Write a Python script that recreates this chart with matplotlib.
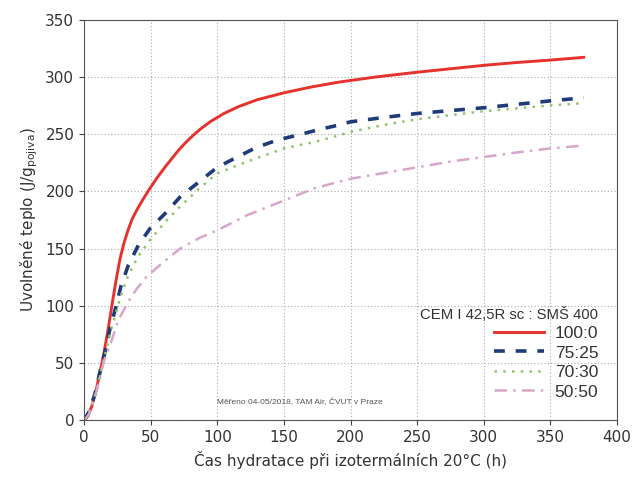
import matplotlib
matplotlib.use("Agg")
import matplotlib.pyplot as plt

# (čas v h, teplo v J/g pojiva)
red_x = [0, 3, 6, 9, 12, 15, 18, 21, 24, 27, 30, 33, 36, 39.6, 44, 48, 54, 61, 71, 77, 82, 88, 95, 105,
         116, 130, 150, 170, 192, 220, 250, 275, 300, 325, 350, 375]
red_y = [0, 4, 13, 26, 42, 59, 79, 101, 122, 141, 155, 166, 175.5, 183.7, 192.5, 200, 210.5, 221.5, 236, 243.5, 249, 255, 261, 268,
         274, 280, 286, 291, 295.5, 300, 304, 307, 310, 312.5, 314.6, 317]

blue_x = [0, 4, 8.3, 12, 15.8, 19.5, 24, 27.6, 33.3, 40.8, 49.6, 62, 72, 86, 100, 114.6, 128.7, 145,
          160, 176.5, 191.5, 200, 225, 250, 275, 300, 325, 350, 375]
blue_y = [0, 8, 23.7, 42.6, 60, 80.4, 99.3, 116.8, 135.7, 153, 167.7, 182, 195, 208, 221, 229.7, 238, 244.8,
          249, 254, 258, 260.7, 264.5, 268, 270.5, 273, 276, 279, 281.7]

green_x = [0, 4, 8.3, 12, 15.8, 19.5, 24, 28, 33, 40, 48.4, 61, 72, 86, 100, 122, 150, 172.6, 191.5,
           200, 225, 250, 275, 300, 325, 350, 375]
green_y = [0, 7, 22, 40, 57, 76, 94, 110, 126, 142, 156, 173.5, 186.6, 202, 215.7, 225.8, 237.5, 243, 249,
           252, 258, 263, 266.5, 270, 272.5, 275, 277]

pink_x = [0, 4, 10, 15, 20.8, 25.8, 33.3, 39.6, 47, 57, 72, 86, 100, 122, 150, 172.6, 190, 200,
          225, 250, 275, 300, 325, 350, 375]
pink_y = [0, 6, 28, 52, 70, 87.7, 104, 115, 125.5, 135.7, 150, 159, 166, 179, 192, 202.6, 208, 211,
          216, 221, 226, 230, 234, 237.5, 240]

labels = ["100:0", "75:25", "70:30", "50:50"]
legend_title = "CEM I 42,5R sc : SMŠ 400"
note = "Měřeno 04-05/2018, TAM Air, ČVUT v Praze"

fig = plt.figure(figsize=(6.35, 4.82), dpi=100)
ax = fig.add_axes([0.1323, 0.1276, 0.8394, 0.8319])

ax.plot(red_x, red_y, color="#e5322d", lw=2.1, label=labels[0])
ax.plot(blue_x, blue_y, color="#1f3c78", lw=2.6, linestyle=(0, (3, 3)), label=labels[1])
ax.plot(green_x, green_y, color="#93c46c", lw=1.8, linestyle=(0, (1, 2.5)), label=labels[2])
ax.plot(pink_x, pink_y, color="#d8a6cb", lw=1.8, linestyle=(0, (5, 2.5, 1, 2.5)), label=labels[3])

ax.set_xlim(0, 400)
ax.set_ylim(0, 350)
ax.set_xticks(range(0, 401, 50))
ax.set_yticks(range(0, 351, 50))
ax.grid(True, color="#aaaaaa", linestyle=(0, (1, 2)), lw=0.8)
ax.tick_params(labelsize=11, colors="#444444", labelcolor="#333333")
for s in ax.spines.values():
    s.set_color("#555555")

ax.set_xlabel("Čas hydratace při izotermálních 20°C (h)", fontsize=11, color="#333333")
ax.set_ylabel(r"Uvolněné teplo (J/g$_{\mathrm{pojiva}}$)", fontsize=11, color="#333333")

ax.text(100, 14, note, fontsize=6, color="#555555", family="Liberation Sans")

leg = ax.legend(title=legend_title, loc="lower right", bbox_to_anchor=(0.978, 0.035),
                frameon=False, prop={"family": "Liberation Sans", "size": 12.5},
                handlelength=2.9, handletextpad=0.6, labelspacing=0.25,
                alignment="right", borderaxespad=0.0)
leg.get_title().set_fontfamily("Liberation Sans")
leg.get_title().set_fontsize(10.7)
leg.get_title().set_color("#333333")
for t in leg.get_texts():
    t.set_color("#333333")

fig.savefig("out.png", dpi=100)
